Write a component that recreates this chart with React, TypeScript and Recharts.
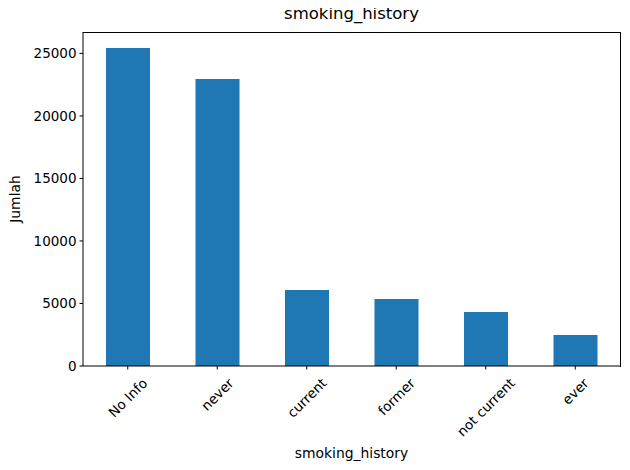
import React from "react";
import { BarChart, Bar, XAxis, YAxis, Label } from "recharts";

const categories = ["No Info", "never", "current", "former", "not current", "ever"];
const counts = [25440, 22960, 6080, 5360, 4320, 2480];
const yTicks = [0, 5000, 10000, 15000, 20000, 25000];

const data = categories.map((c, i) => ({ name: c, value: counts[i] }));

const FONT = "'DejaVu Sans', sans-serif";
const TICK_FS = 13.5;

let ctx: CanvasRenderingContext2D | null = null;
function measure(t: string): number {
  if (!ctx) {
    const c = document.createElement("canvas");
    ctx = c.getContext("2d");
  }
  if (!ctx) return t.length * TICK_FS * 0.6;
  ctx.font = `${TICK_FS}px 'DejaVu Sans'`;
  return ctx.measureText(t).width;
}

const RotTick = (props: any) => {
  const { x, y, payload } = props;
  const w = measure(String(payload.value));
  const h = TICK_FS * 1.16;
  const H = (w + h) * 0.7071;
  const cy = y + 3.5 + H / 2;
  return (
    <text
      x={x}
      y={cy}
      textAnchor="middle"
      dominantBaseline="central"
      fontSize={TICK_FS}
      fontFamily={FONT}
      fill="#000"
      transform={`rotate(-45, ${x}, ${cy})`}
    >
      {payload.value}
    </text>
  );
};

export default function App() {
  return (
    <div style={{ position: "relative", width: 630, height: 470, margin: -8, background: "#fff" }}>
      <div
        style={{
          position: "absolute",
          left: 83,
          width: 537,
          top: 4,
          textAlign: "center",
          fontFamily: FONT,
          fontSize: 16.5,
          color: "#000",
          lineHeight: "20px",
        }}
      >
        smoking_history
      </div>
      <BarChart
        width={630}
        height={470}
        data={data}
        margin={{ top: 32, right: 10, bottom: 0, left: 0 }}
        barSize={44}
      >
        <XAxis
          dataKey="name"
          axisLine={{ stroke: "#000", strokeWidth: 1 }}
          tickLine={{ stroke: "#000" }}
          tickSize={3.5}
          tick={<RotTick />}
          interval={0}
          height={104}
        >
          <Label
            value="smoking_history"
            position="insideBottom"
            offset={12}
            style={{ fontSize: 13.9, fontFamily: FONT, fill: "#000" }}
          />
        </XAxis>
        <YAxis
          width={83}
          domain={[0, 26712]}
          ticks={yTicks}
          allowDataOverflow
          axisLine={{ stroke: "#000", strokeWidth: 1 }}
          tickLine={{ stroke: "#000" }}
          tickSize={3.5}
          tickMargin={3}
          tick={{ fontSize: TICK_FS, fontFamily: FONT, fill: "#000" }}
        >
          <Label
            value="Jumlah"
            angle={-90}
            position="insideLeft"
            offset={15}
            style={{ fontSize: 13.9, fontFamily: FONT, fill: "#000", textAnchor: "middle" }}
          />
        </YAxis>
        <Bar dataKey="value" fill="#1f77b4" isAnimationActive={false} />
      </BarChart>
      <div
        style={{
          position: "absolute",
          left: 83,
          top: 31.5,
          width: 536.5,
          height: 334.5,
          borderTop: "1px solid #000",
          borderRight: "1px solid #000",
          pointerEvents: "none",
          boxSizing: "content-box",
        }}
      />
    </div>
  );
}
